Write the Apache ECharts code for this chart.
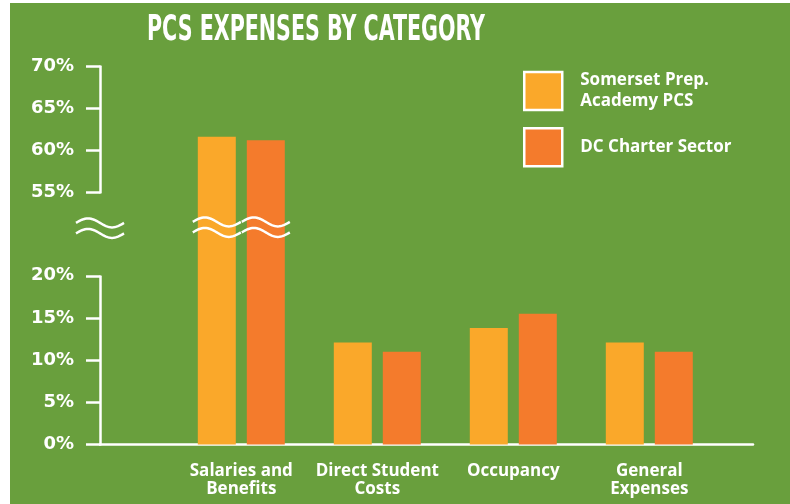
<!DOCTYPE html>
<html><head><meta charset="utf-8">
<script src="https://cdn.jsdelivr.net/npm/echarts@6/dist/echarts.min.js"></script>
<style>
html,body{margin:0;padding:0;background:#fff;}
#chart{width:790px;height:504px;background:linear-gradient(#699F3D,#699F3D) no-repeat 10px 3px/780px 501px,#fff;}
</style></head><body><div id="chart"></div>
<script>
// ---- data ----
const categories = ['Salaries and\nBenefits', 'Direct Student\nCosts', 'Occupancy', 'General\nExpenses'];
const seriesNames = ['Somerset Prep.\nAcademy PCS', 'DC Charter Sector'];
const somerset = [61.6, 12.1, 13.8, 12.1];
const dcSector = [61.2, 11.0, 15.5, 11.0];
const yTickValues = [0, 5, 10, 15, 20, 55, 60, 65, 70];
const axisBreak = { start: 20, end: 55 };
const titleText = 'PCS EXPENSES BY CATEGORY';

// ---- style ----
const WHITE = '#ffffff';
const YELLOW = '#FAA82A';
const ORANGE = '#F47B2C';
const FONT = '"Open Sans"';
const YFONT = '"DejaVu Sans"';
const TITLE_FONT = 'bold 36px "DejaVu Sans Condensed"';
const barWidth = 38, barGapPx = 11;

const ctx = document.createElement('canvas').getContext('2d');
ctx.font = TITLE_FONT;
const titleScale = 338 / ctx.measureText(titleText).width;

function wave(x0, w, yc, amp) {
  const pts = [];
  for (let i = 0; i <= 32; i++) {
    const t = i / 32;
    pts.push([x0 + t * w, yc - amp * Math.sin(2 * Math.PI * t)]);
  }
  return { type: 'polyline', shape: { points: pts }, style: { stroke: WHITE, lineWidth: 2.5, fill: null } };
}
function doubleWave(x0, w, mid) {
  return [wave(x0, w, mid - 5.25, 4.5), wave(x0, w, mid + 5.25, 4.5)];
}

const chart = echarts.init(document.getElementById('chart'), null, { renderer: 'canvas' });

const yCommon = {
  type: 'value', min: 0, max: 70, interval: 5,
  breaks: [{ start: axisBreak.start, end: axisBreak.end, gap: '22%' }],
  breakArea: { show: false },
  splitLine: { show: false }
};

const breakCats = categories.map((c, i) => i).filter(i => Math.max(somerset[i], dcSector[i]) > axisBreak.end);

chart.setOption({
  animation: false,
  backgroundColor: 'transparent',
  textStyle: { fontFamily: FONT },
  graphic: [{
    type: 'text', x: 147, y: 31, scaleX: titleScale, originX: 0,
    style: { text: titleText, fill: WHITE, font: TITLE_FONT, textVerticalAlign: 'middle', verticalAlign: 'middle' }
  }],
  grid: [
    { left: 173.3, right: 72.7, top: 66, bottom: 59.5 },
    { left: 100, right: 37, top: 66, bottom: 59.5 }
  ],
  legend: {
    data: seriesNames, orient: 'vertical', left: 518, top: 61.5,
    itemWidth: 38, itemHeight: 38, itemGap: 11.5, icon: 'rect', selectedMode: false,
    itemStyle: { borderColor: WHITE, borderWidth: 2.5 },
    textStyle: { color: WHITE, fontWeight: 'bold', fontSize: 17, lineHeight: 21, fontFamily: FONT, padding: [7, 0, 0, 13] }
  },
  xAxis: [
    {
      gridIndex: 0, type: 'category', data: categories,
      axisLine: { show: false }, axisTick: { show: false },
      axisLabel: { interval: 0, color: WHITE, fontWeight: 'bold', fontSize: 17, lineHeight: 18, margin: 18, fontFamily: FONT }
    },
    {
      gridIndex: 1, type: 'value', min: 0, max: 1,
      axisLine: { show: true, lineStyle: { color: WHITE, width: 2.5 } },
      axisTick: { show: false }, axisLabel: { show: false }, splitLine: { show: false }
    }
  ],
  yAxis: [
    Object.assign({}, yCommon, { gridIndex: 0, show: false }),
    Object.assign({}, yCommon, {
      gridIndex: 1,
      axisLine: { show: true, lineStyle: { color: WHITE, width: 2.5 } },
      axisTick: { show: true, inside: false, length: 14, lineStyle: { color: WHITE, width: 2.5 } },
      axisLabel: {
        color: WHITE, fontWeight: 'bold', fontSize: 18, margin: 26, fontFamily: YFONT,
        formatter: v => yTickValues.includes(Math.round(v * 100) / 100) ? v + '%' : ''
      }
    })
  ],
  series: [
    { name: seriesNames[0], type: 'bar', xAxisIndex: 0, yAxisIndex: 0, data: somerset,
      barWidth: barWidth, barGap: (barGapPx / barWidth * 100) + '%', itemStyle: { color: YELLOW } },
    { name: seriesNames[1], type: 'bar', xAxisIndex: 0, yAxisIndex: 0, data: dcSector,
      barWidth: barWidth, itemStyle: { color: ORANGE } },
    { type: 'custom', xAxisIndex: 0, yAxisIndex: 0, silent: true, z: 10,
      data: breakCats.map(i => [i, axisBreak.start]),
      encode: { x: 0, y: 1 },
      renderItem: (params, api) => {
        const i = api.value(0);
        const p1 = api.coord([i, axisBreak.start]);
        const p2 = api.coord([i, axisBreak.end]);
        const mid = (p1[1] + p2[1]) / 2 - 7;
        const step = barWidth + barGapPx;
        const children = [];
        [-0.5, 0.5].forEach(k => {
          const bx = p1[0] + k * step;
          children.push(...doubleWave(bx - barWidth / 2 - 5, barWidth + 10, mid));
        });
        return { type: 'group', children };
      }
    },
    { type: 'custom', xAxisIndex: 1, yAxisIndex: 1, silent: true, z: 10,
      data: [[0, axisBreak.start]],
      encode: { x: 0, y: 1 },
      renderItem: (params, api) => {
        const p1 = api.coord([0, axisBreak.start]);
        const p2 = api.coord([0, axisBreak.end]);
        const mid = (p1[1] + p2[1]) / 2 - 6;
        return { type: 'group', children: doubleWave(p1[0] - 24, 48, mid) };
      }
    }
  ]
});
</script></body></html>
